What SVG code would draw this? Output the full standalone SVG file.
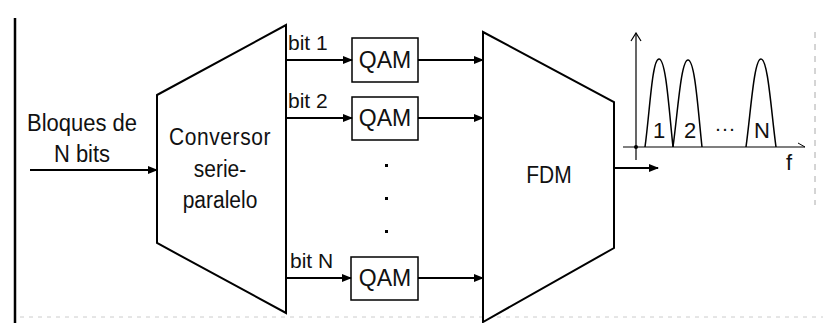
<svg xmlns="http://www.w3.org/2000/svg" width="823" height="323" viewBox="0 0 823 323">
<defs>
<marker id="ah" markerWidth="10" markerHeight="8" refX="9" refY="4" orient="auto" markerUnits="userSpaceOnUse">
<path d="M0,0 L10,4 L0,8 Z" fill="#000"/>
</marker>
<marker id="open" markerWidth="12" markerHeight="10" refX="6" refY="1" orient="0" markerUnits="userSpaceOnUse">
<path d="M1,9 L6,1 L11,9" fill="none" stroke="#000" stroke-width="1.2"/>
</marker>
</defs>
<style>
text{font-family:"Liberation Sans",Arial,sans-serif;font-size:21px;fill:#111}
.shape{fill:#fff;stroke:#000;stroke-width:2}
.box{fill:#fff;stroke:#000;stroke-width:1.5}
.wire{stroke:#000;stroke-width:1.8;fill:none}
.lobe{fill:none;stroke:#000;stroke-width:1.5}
.q{font-size:23px}
.s{font-size:22px}
</style>
<rect width="823" height="323" fill="#fff"/>
<line x1="15" y1="18" x2="15" y2="323" stroke="#000" stroke-width="2.5"/>
<line x1="815" y1="32" x2="815" y2="205" stroke="#aaa" stroke-width="1" stroke-dasharray="6,6"/>
<line x1="20" y1="317" x2="823" y2="317" stroke="#ccc" stroke-width="1" stroke-dasharray="4,5"/>

<g id="input-label">
<text class="s" x="82" y="131" text-anchor="middle" transform="matrix(1,0,0,1.1,0,-13.1)">Bloques de</text>
<text class="s" x="82" y="162" text-anchor="middle" transform="matrix(1,0,0,1.1,0,-16.2)">N bits</text>
</g>

<g id="conversor">
<polygon class="shape" points="157,95 286,25 286,313 157,243"/>
<text x="220" y="145" text-anchor="middle" letter-spacing="0.6" transform="matrix(1,0,0,1.12,0,-17.4)">Conversor</text>
<text x="220" y="177" text-anchor="middle" transform="matrix(1,0,0,1.12,0,-21.24)">serie-</text>
<text x="220" y="208" text-anchor="middle" transform="matrix(1,0,0,1.12,0,-24.96)">paralelo</text>
</g>

<g id="qam1">
<rect class="box" x="352" y="38" width="66" height="44"/>
<text class="q" x="385" y="68" text-anchor="middle">QAM</text>
</g>
<g id="qam2">
<rect class="box" x="352" y="97" width="66" height="43"/>
<text class="q" x="385" y="126" text-anchor="middle">QAM</text>
</g>
<g id="qamN">
<rect class="box" x="351" y="257" width="67" height="43"/>
<text class="q" x="385" y="286" text-anchor="middle">QAM</text>
</g>

<g id="dots" fill="#000">
<rect x="385" y="164" width="3" height="3"/>
<rect x="385" y="197" width="3" height="3"/>
<rect x="385" y="230" width="3" height="3"/>
</g>

<g id="fdm">
<polygon class="shape" points="483,32 614,102 614,248 483,322"/>
<text x="549" y="183" text-anchor="middle" transform="matrix(1,0,0,1.12,0,-21.96)">FDM</text>
</g>

<g id="connectors">
<line class="wire" x1="30" y1="170" x2="157" y2="170" marker-end="url(#ah)"/>
<line class="wire" x1="286" y1="60" x2="352" y2="60" marker-end="url(#ah)"/>
<line class="wire" x1="286" y1="118" x2="352" y2="118" marker-end="url(#ah)"/>
<line class="wire" x1="286" y1="278" x2="351" y2="278" marker-end="url(#ah)"/>
<line class="wire" x1="418" y1="60" x2="483" y2="60" marker-end="url(#ah)"/>
<line class="wire" x1="418" y1="118" x2="483" y2="118" marker-end="url(#ah)"/>
<line class="wire" x1="418" y1="278" x2="483" y2="278" marker-end="url(#ah)"/>
<line class="wire" x1="614" y1="168" x2="658" y2="168" marker-end="url(#ah)"/>
<text x="288" y="50">bit 1</text>
<text x="288" y="108">bit 2</text>
<text x="290" y="268">bit N</text>
</g>

<g id="spectrum">
<line x1="636" y1="160" x2="636" y2="33" stroke="#000" stroke-width="1.2" marker-end="url(#open)"/>
<line x1="623" y1="147" x2="805" y2="147" stroke="#000" stroke-width="1.2"/>
<path d="M798,143 L805,147" stroke="#000" stroke-width="1"/>
<circle cx="636" cy="147" r="2" fill="#000"/>
<path class="lobe" d="M645,147 C650,110 652,59 659,59 C666,59 669,110 673,147"/>
<path class="lobe" d="M673,147 C678,110 681,60 688,60 C695,60 698,110 702,147"/>
<path class="lobe" d="M746,147 C751,110 754,59 761,59 C768,59 771,110 776,147"/>
<text class="s" x="659" y="138" text-anchor="middle">1</text>
<text class="s" x="690" y="138" text-anchor="middle">2</text>
<text x="725" y="135" text-anchor="middle">···</text>
<text class="s" x="762" y="138" text-anchor="middle">N</text>
<text class="s" x="789" y="170" text-anchor="middle">f</text>
</g>
</svg>
